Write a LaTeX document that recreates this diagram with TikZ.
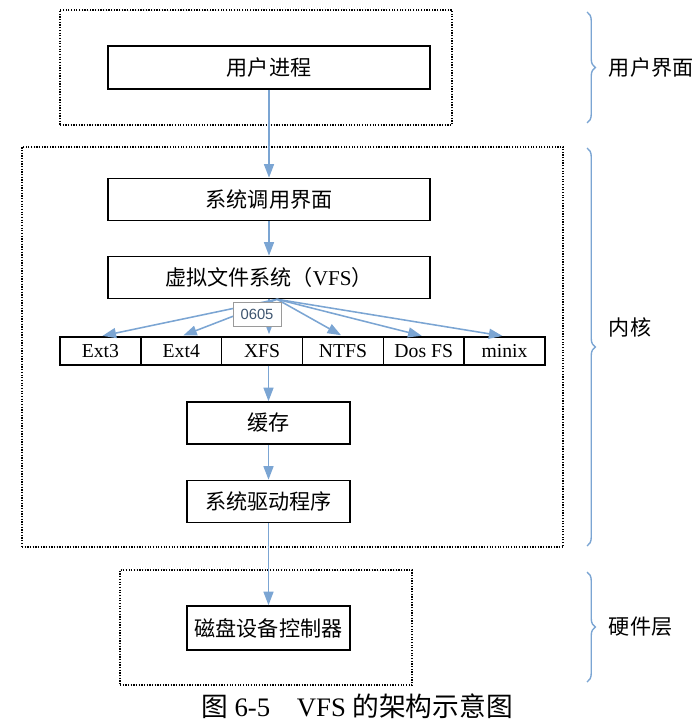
\documentclass[tikz,border=0pt]{standalone}
\usepackage{fontspec}
\setmainfont{Liberation Serif}
\newfontfamily\cjk{Noto Sans CJK SC}
\newfontfamily\tipfont{Liberation Sans}
\usetikzlibrary{arrows.meta, positioning, decorations.pathreplacing, shadows}
\definecolor{vfsBlue}{HTML}{7BA5D3}
\definecolor{vfsTip}{HTML}{3E5570}
\definecolor{vfsTipLine}{HTML}{9A9A9A}

\begin{document}
\begin{tikzpicture}[x=0.025cm, y=-0.025cm, font=\fontsize{15}{18}\selectfont,
        grp/.style={draw=black, densely dotted, line width=0.9pt, minimum height=2.875cm},
        blk/.style={draw=black, line width=1.1pt, fill=white, inner sep=0pt, minimum height=1.05cm},
        cell/.style={draw=black, line width=1pt, fill=white, inner sep=0pt, minimum width=2.02cm, minimum height=0.7cm, font=\fontsize{14}{16}\selectfont},
        flow/.style={-{Triangle[length=3.4mm, width=2.5mm]}, vfsBlue, line width=1.1pt},
        brc/.style={decorate, decoration={brace, amplitude=6pt}, vfsBlue, line width=1pt},
        lab/.style={anchor=west, font=\cjk\fontsize{15}{18}\selectfont}]
        \useasboundingbox (0,0) rectangle (699,727);
        % dotted layers
        \node[grp, minimum width=9.8cm] (user) at (256,67.5) {};
        \node[grp, minimum width=13.525cm, minimum height=10cm] (kern) at (292.5,347) {};
        \node[grp, minimum width=7.3cm] (hw) at (266,627.5) {};
        % boxes
        \node[blk, minimum width=8.05cm, minimum height=1.075cm] (proc) at (269,67.5) {\cjk 用户进程};
        \node[blk, minimum width=8.05cm] (sys) at (269,199.5) {\cjk 系统调用界面};
        \node[blk, minimum width=8.05cm] (vfs) at (269,277.5) {{\cjk 虚拟文件系统（}VFS{\cjk ）}};
        \foreach \n/\t [count=\i] in {ext3/Ext3, ext4/Ext4, xfs/XFS, ntfs/NTFS, dos/Dos FS, minix/minix}
          \node[cell] (\n) at ({60+80.83*(\i-0.5)},351) {\t};
        \node[blk, minimum width=4.075cm] (cache) at (268.5,423) {\cjk 缓存};
        \node[blk, minimum width=4.075cm] (drv) at (268.5,501.5) {\cjk 系统驱动程序};
        \node[blk, minimum width=4.075cm, minimum height=1.1cm] (disk) at (268.5,628) {\cjk 磁盘设备控制器};
        % arrows
        \draw[flow] (proc) -- (sys);
        \draw[flow] (sys) -- (vfs);
        \foreach \n in {ext3, ext4, ntfs, dos, minix}
          \draw[flow, shorten >=1.5pt] ([xshift=0.2cm]vfs.south) -- (\n.north);
        \draw[flow, shorten >=1.5pt] (vfs.south) -- (vfs.south |- xfs.north);
        \draw[flow] (cache.north |- xfs.south) -- (cache.north);
        \draw[flow] (cache) -- (drv);
        \draw[flow] (drv) -- (disk);
        % tooltip
        \node[draw=vfsTipLine, fill=white, drop shadow={opacity=0.3, shadow xshift=1pt, shadow yshift=-1pt}, minimum width=1.2cm, minimum height=0.6cm, inner sep=0pt, text=vfsTip, font=\tipfont\fontsize{10.5}{12}\selectfont] (tip) at (257,314) {0605};
        % braces
        \draw[brc] (587,12) -- (587,123);
        \draw[brc] (587,148) -- (587,546);
        \draw[brc] (587,572) -- (587,682);
        \node[lab] (lu) at (604,67) {用户界面};
        \node[lab] (lk) at (604,327) {内核};
        \node[lab] (lh) at (604,627) {硬件层};
        % caption
        \node[font=\fontsize{19}{22}\selectfont] (cap) at (357,706) {{\cjk 图} 6-5{\cjk 　}VFS {\cjk 的架构示意图}};
\end{tikzpicture}
\end{document}
